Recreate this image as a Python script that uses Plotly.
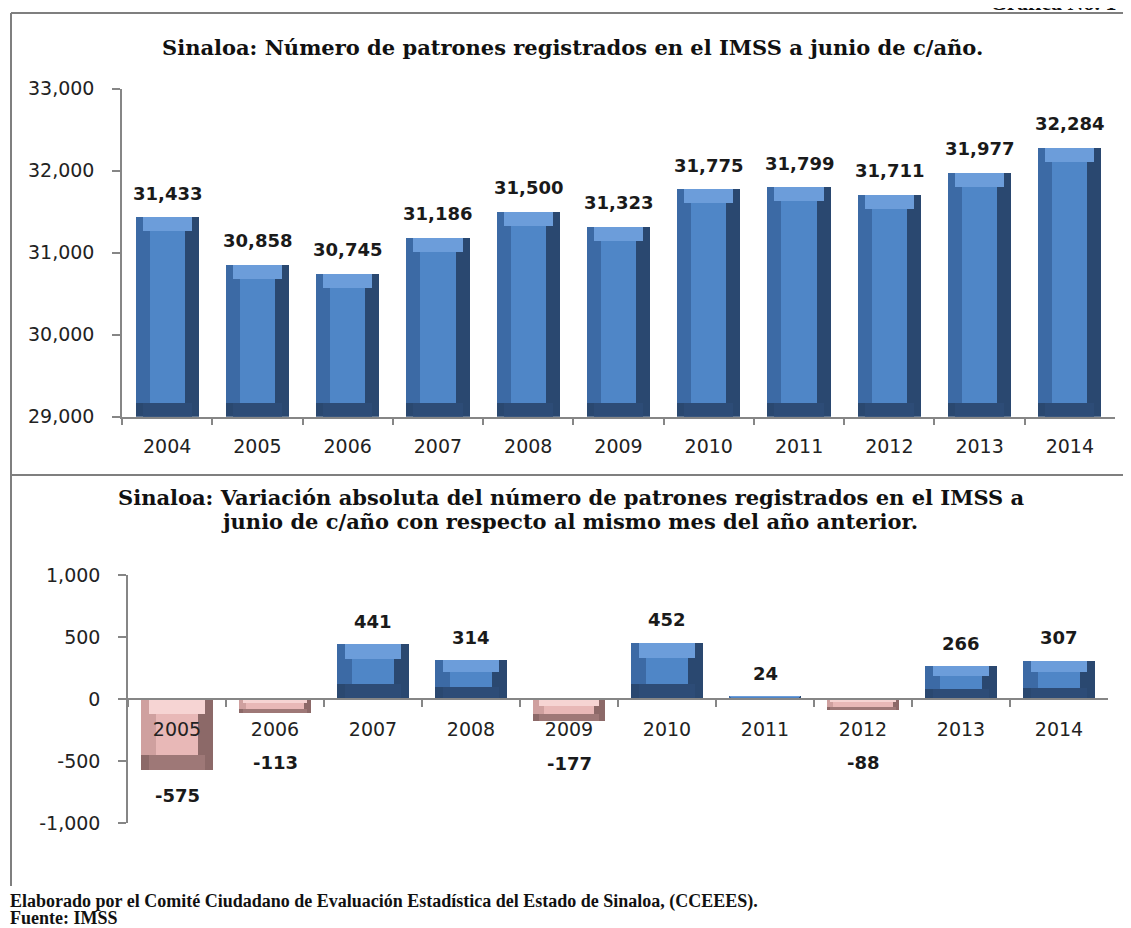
import plotly.graph_objects as go

# ---------------- data ----------------
years_top = ["2004", "2005", "2006", "2007", "2008", "2009", "2010", "2011", "2012", "2013", "2014"]
patrones = [31433, 30858, 30745, 31186, 31500, 31323, 31775, 31799, 31711, 31977, 32284]

years_bot = ["2005", "2006", "2007", "2008", "2009", "2010", "2011", "2012", "2013", "2014"]
variacion = [-575, -113, 441, 314, -177, 452, 24, -88, 266, 307]

top_ticks = [29000, 30000, 31000, 32000, 33000]
bot_ticks = [-1000, -500, 0, 500, 1000]

title_top = "Sinaloa: Número de patrones registrados en el IMSS a junio de c/año."
title_bot1 = "Sinaloa: Variación absoluta del número de patrones registrados en el IMSS a"
title_bot2 = "junio de c/año con respecto al mismo mes del año anterior."
footer1 = "Elaborado por el Comité Ciudadano de Evaluación Estadística del Estado de Sinaloa, (CCEEES)."
footer2 = "Fuente: IMSS"
grafica = "Gráfica No. 1"

# ---------------- geometry ----------------
# the page body has an 8px margin, so the figure is drawn 8px right/down
OFF = 8
W, H = 1131 - OFF, 928 - OFF
def px(x):
    return (x - OFF) / W
def py(y):
    return 1 - (y - OFF) / H

TOP_X = (122, 1115)
TOP_Y = (416.7, 88.7)  # pixel of 29000, 33000
BOT_X = (128, 1108)
BOT_Y = (823, 575)     # pixel of -1000, 1000

BLUE = dict(dark="#2A4870", bottom="#2D4C77", left="#3C6AA5", light="#6C9DDA", face="#4F86C7")
PINK = dict(dark="#8C6968", bottom="#9E7877", left="#CFA09F", light="#F6D4D3", face="#E8B8B7")

fig = go.Figure()

def add_bevel_bars(cats, vals, base_val, xaxis, yaxis, cat_px, unit_px, w, bmax, colors_fn):
    lo = [min(v, base_val) for v in vals]
    hi = [max(v, base_val) for v in vals]
    hpx = [(h - l) * unit_px for l, h in zip(lo, hi)]
    bh = [min(bmax, hp * 0.5) / cat_px for hp in hpx]
    bv = [min(bmax, hp * 0.3) / unit_px for hp in hpx]
    cols = [colors_fn(v) for v in vals]
    common = dict(x=cats, xaxis=xaxis, yaxis=yaxis, showlegend=False, hoverinfo="skip",
                  marker_line_width=0)
    # full dark (right side)
    fig.add_trace(go.Bar(base=lo, y=[h - l for l, h in zip(lo, hi)],
                         offset=[-w / 2] * len(vals), width=[w] * len(vals),
                         marker_color=[c["dark"] for c in cols], **common))
    # bottom band
    fig.add_trace(go.Bar(base=lo, y=bv,
                         offset=[-w / 2 + b * 0.5 for b in bh], width=[w - b for b in bh],
                         marker_color=[c["bottom"] for c in cols], **common))
    # left band
    fig.add_trace(go.Bar(base=[l + b for l, b in zip(lo, bv)],
                         y=[h - l - b for l, h, b in zip(lo, hi, bv)],
                         offset=[-w / 2] * len(vals), width=[w - b for b in bh],
                         marker_color=[c["left"] for c in cols], **common))
    # top band
    fig.add_trace(go.Bar(base=[h - b for h, b in zip(hi, bv)], y=bv,
                         offset=[-w / 2 + b * 0.5 for b in bh], width=[w - b for b in bh],
                         marker_color=[c["light"] for c in cols], **common))
    # face
    fig.add_trace(go.Bar(base=[l + b for l, b in zip(lo, bv)],
                         y=[h - l - 2 * b for l, h, b in zip(lo, hi, bv)],
                         offset=[-w / 2 + b for b in bh], width=[w - 2 * b for b in bh],
                         marker_color=[c["face"] for c in cols], **common))

top_cat_px = (TOP_X[1] - TOP_X[0]) / len(years_top)
top_unit_px = (TOP_Y[0] - TOP_Y[1]) / (top_ticks[-1] - top_ticks[0])
bot_cat_px = (BOT_X[1] - BOT_X[0]) / len(years_bot)
bot_unit_px = (BOT_Y[0] - BOT_Y[1]) / (bot_ticks[-1] - bot_ticks[0])

add_bevel_bars(years_top, patrones, top_ticks[0], "x", "y", top_cat_px, top_unit_px, 0.70, 14,
               lambda v: BLUE)
add_bevel_bars(years_bot, variacion, 0, "x2", "y2", bot_cat_px, bot_unit_px, 0.73, 15,
               lambda v: BLUE if v >= 0 else PINK)

label_font = dict(family="DejaVu Sans", size=18, color="#1a1a1a", weight="bold")
tick_font = dict(family="DejaVu Sans", size=19, color="#222222")
serif_b = "DejaVu Serif"
title_font = dict(family=serif_b, size=21, color="#111111", weight="bold")

annotations = []
for i, v in enumerate(patrones):
    annotations.append(dict(x=i, y=v, xref="x", yref="y", text=f"{v:,}", showarrow=False,
                            yanchor="middle", yshift=24, font=label_font))
zero_px = (BOT_Y[0] + BOT_Y[1]) / 2
for i, v in enumerate(variacion):
    if v >= 0:
        annotations.append(dict(x=i, y=v, xref="x2", yref="y2", text=f"{v:,}", showarrow=False,
                                yanchor="middle", yshift=23, font=label_font))
    else:
        end_px = zero_px - v * bot_unit_px
        target = max(end_px + 25, 763)
        annotations.append(dict(x=i, y=v, xref="x2", yref="y2", text=f"{v:,}", showarrow=False,
                                yanchor="middle", yshift=-(target - end_px), font=label_font))

annotations += [
    dict(x=px(572), y=py(48), xref="paper", yref="paper", text=title_top, showarrow=False,
         xanchor="center", yanchor="middle", font=title_font),
    dict(x=px(571), y=py(497), xref="paper", yref="paper", text=title_bot1, showarrow=False,
         xanchor="center", yanchor="middle", font=title_font),
    dict(x=px(569), y=py(521), xref="paper", yref="paper", text=title_bot2, showarrow=False,
         xanchor="center", yanchor="middle", font=title_font),
    dict(x=px(8), y=py(901), xref="paper", yref="paper", text=footer1, showarrow=False,
         xanchor="left", yanchor="middle",
         font=dict(family="Liberation Serif", size=18, color="#111111", weight="bold")),
    dict(x=px(8), y=py(918), xref="paper", yref="paper", text=footer2, showarrow=False,
         xanchor="left", yanchor="middle",
         font=dict(family="Liberation Serif", size=18, color="#111111", weight="bold")),
    dict(x=px(988), y=py(17), xref="paper", yref="paper", text=grafica, showarrow=False,
         xanchor="left", yanchor="bottom",
         font=dict(family="Liberation Serif", size=22, color="#111111", weight="bold")),
]

line_col = "#7F7F7F"
shapes = [
    dict(type="line", xref="paper", yref="paper", x0=px(11), x1=1.0, y0=py(13), y1=py(13),
         line=dict(color=line_col, width=2)),
    dict(type="line", xref="paper", yref="paper", x0=px(11), x1=px(11), y0=py(13), y1=py(886),
         line=dict(color=line_col, width=2)),
    dict(type="line", xref="paper", yref="paper", x0=px(11), x1=1.0, y0=py(475), y1=py(475),
         line=dict(color=line_col, width=2)),
]

axis_col = "#868686"
fig.update_layout(
    width=W, height=H,
    margin=dict(l=0, r=0, t=0, b=0, autoexpand=False),
    paper_bgcolor="white", plot_bgcolor="rgba(0,0,0,0)",
    barmode="overlay", bargap=0,
    annotations=annotations, shapes=shapes,
    xaxis=dict(domain=[px(TOP_X[0]), px(TOP_X[1])], anchor="y", type="category",
               categoryorder="array", categoryarray=years_top,
               range=[-0.5, len(years_top) - 0.5], automargin=False, tickangle=0,
               showline=True, linecolor=axis_col, linewidth=1.5, showgrid=False,
               ticks="outside", tickson="boundaries", ticklen=7, tickcolor=axis_col, tickwidth=1.5,
               tickfont=tick_font, ticklabelstandoff=12, fixedrange=True),
    yaxis=dict(domain=[py(TOP_Y[0]), py(TOP_Y[1])], anchor="x", automargin=False,
               range=[top_ticks[0], top_ticks[-1]], tickvals=top_ticks,
               ticktext=[f"{t:,}" for t in top_ticks],
               showline=True, linecolor=axis_col, linewidth=1.5, showgrid=False, zeroline=False,
               ticks="outside", ticklen=8, tickcolor=axis_col, tickwidth=1.5,
               tickfont=tick_font, ticklabelstandoff=14, fixedrange=True),
    xaxis2=dict(domain=[px(BOT_X[0]), px(BOT_X[1])], anchor="free",
                position=(py(BOT_Y[0]) + py(BOT_Y[1])) / 2, type="category",
                categoryorder="array", categoryarray=years_bot,
                range=[-0.5, len(years_bot) - 0.5], automargin=False, tickangle=0,
                showline=True, linecolor=axis_col, linewidth=1.5, showgrid=False,
                ticks="outside", tickson="boundaries", ticklen=7, tickcolor=axis_col, tickwidth=1.5,
                tickfont=tick_font, ticklabelstandoff=13, fixedrange=True),
    yaxis2=dict(domain=[py(BOT_Y[0]), py(BOT_Y[1])], anchor="x2", automargin=False,
                range=[bot_ticks[0], bot_ticks[-1]], tickvals=bot_ticks,
                ticktext=[f"{t:,}" for t in bot_ticks],
                showline=True, linecolor=axis_col, linewidth=1.5, showgrid=False, zeroline=False,
                ticks="outside", ticklen=8, tickcolor=axis_col, tickwidth=1.5,
                tickfont=tick_font, ticklabelstandoff=14, fixedrange=True),
)

fig.write_html("out.html")
